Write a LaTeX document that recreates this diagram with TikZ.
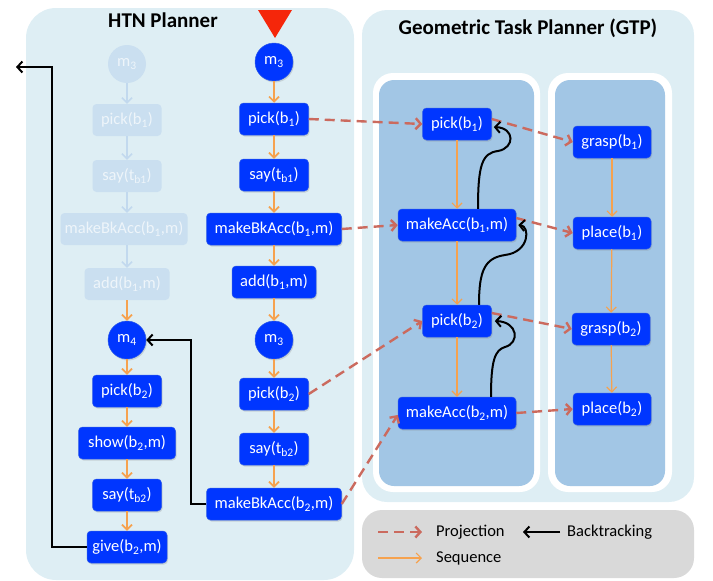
\documentclass[tikz,border=0pt]{standalone}
\usepackage{fontspec}
\setmainfont{Carlito}
\usetikzlibrary{arrows.meta,shadows}
\definecolor{panelbg}{HTML}{DEEEF4}
\definecolor{colblue}{HTML}{A2C6E5}
\definecolor{nodeblue}{HTML}{0036FF}
\definecolor{nodeedge}{HTML}{2F5BE8}
\definecolor{fadefill}{HTML}{CADFF0}
\definecolor{fadetext}{HTML}{EEF5FA}
\definecolor{fadearrow}{HTML}{C2D9EE}
\definecolor{seqorange}{HTML}{F6A24F}
\definecolor{projred}{HTML}{CB6A5E}
\definecolor{legendgray}{HTML}{D9D9D9}
\definecolor{trired}{HTML}{F5260A}
\tikzset{
  nodefont/.style={font=\fontsize{16.5}{18}\selectfont},
  blk/.style={rectangle, rounded corners=4pt, fill=nodeblue, draw=nodeedge, line width=0.5pt,
    text=white, nodefont, minimum height=32pt, inner sep=0pt,
    drop shadow={shadow xshift=1pt, shadow yshift=-1.5pt, opacity=0.25}},
  circ/.style={circle, fill=nodeblue, draw=nodeedge, line width=0.5pt, text=white,
    nodefont, minimum size=38pt, inner sep=0pt,
    drop shadow={shadow xshift=1pt, shadow yshift=-1.5pt, opacity=0.25}},
  fade/.style={rectangle, rounded corners=4pt, fill=fadefill, text=fadetext,
    nodefont, minimum height=32pt, inner sep=0pt},
  fadecirc/.style={circle, fill=fadefill, text=fadetext,
    nodefont, minimum size=38pt, inner sep=0pt},
  seq/.style={draw=seqorange, line width=1.6pt, -{Straight Barb[length=5pt,width=10pt]}},
  fadeseq/.style={draw=fadearrow, line width=1.6pt, -{Straight Barb[length=5pt,width=10pt]}},
  seqthin/.style={draw=seqorange, line width=1.2pt, -{Straight Barb[length=5pt,width=10pt]}},
  proj/.style={draw=projred, line width=2.4pt, dash pattern=on 10pt off 6pt, -{Straight Barb[length=5pt,width=11pt]}},
  back/.style={draw=black, line width=2pt, -{Straight Barb[length=5pt,width=11pt]}},
  title/.style={font=\bfseries\fontsize{21}{23}\selectfont, text=black},
  legtext/.style={font=\fontsize{16.5}{18}\selectfont, text=black, anchor=west, inner sep=0pt},
}
\begin{document}
\begin{tikzpicture}[x=1pt,y=-1pt]
\useasboundingbox (0,0) rectangle (713,581);
% panels
\fill[panelbg, rounded corners=30pt] (26,8) rectangle (354,580);
\fill[panelbg, rounded corners=25pt] (362,10) rectangle (694,502);
\fill[white, rounded corners=20pt] (373,73) rectangle (540,492);
\fill[colblue, rounded corners=15pt] (379,80) rectangle (534,486);
\fill[white, rounded corners=20pt] (548,73) rectangle (672,492);
\fill[colblue, rounded corners=15pt] (555,80) rectangle (665,486);
\fill[legendgray, rounded corners=20pt] (362,510) rectangle (694,578);
% titles
\node[title] (t1) at (163,20) {HTN Planner};
\node[title] (t2) at (528,28) {Geometric Task Planner (GTP)};
\fill[trired] (258,10) -- (292,10) -- (275,38) -- cycle;
% HTN right column
\node[circ] (hm3a) at (274,62) {m\textsubscript{3}};
\node[blk, minimum width=69pt] (hp1) at (274,119) {pick(b\textsubscript{1})};
\node[blk, minimum width=69pt] (hs1) at (274,175) {say(t\textsubscript{b1})};
\node[blk, minimum width=135pt] (hk1) at (274,229) {makeBkAcc(b\textsubscript{1},m)};
\node[blk, minimum width=84pt] (ha1) at (274,282) {add(b\textsubscript{1},m)};
\node[circ] (hm3b) at (274,340) {m\textsubscript{3}};
\node[blk, minimum width=69pt] (hp2) at (274,394) {pick(b\textsubscript{2})};
\node[blk, minimum width=69pt] (hs2) at (274,449) {say(t\textsubscript{b2})};
\node[blk, minimum width=135pt] (hk2) at (274,504) {makeBkAcc(b\textsubscript{2},m)};
% HTN left column
\node[fadecirc] (fm3) at (127,64) {m\textsubscript{3}};
\node[fade, minimum width=69pt] (fp1) at (127,120) {pick(b\textsubscript{1})};
\node[fade, minimum width=69pt] (fs1) at (127,176) {say(t\textsubscript{b1})};
\node[fade, minimum width=127pt] (fk1) at (124,229) {makeBkAcc(b\textsubscript{1},m)};
\node[fade, minimum width=85pt] (fa1) at (127,284) {add(b\textsubscript{1},m)};
\node[circ] (m4) at (127,340) {m\textsubscript{4}};
\node[blk, minimum width=69pt] (lp2) at (127,391) {pick(b\textsubscript{2})};
\node[blk, minimum width=97pt] (lsh) at (127,443) {show(b\textsubscript{2},m)};
\node[blk, minimum width=69pt] (ls2) at (127,495) {say(t\textsubscript{b2})};
\node[blk, minimum width=80pt] (lg) at (127,547) {give(b\textsubscript{2},m)};
% GTP
\node[blk, minimum width=69pt] (gp1) at (457,124) {pick(b\textsubscript{1})};
\node[blk, minimum width=118pt] (gk1) at (457,225) {makeAcc(b\textsubscript{1},m)};
\node[blk, minimum width=69pt] (gp2) at (457,321) {pick(b\textsubscript{2})};
\node[blk, minimum width=118pt] (gk2) at (457,413) {makeAcc(b\textsubscript{2},m)};
\node[blk, minimum width=78pt] (gg1) at (612,142) {grasp(b\textsubscript{1})};
\node[blk, minimum width=78pt] (gl1) at (612,233) {place(b\textsubscript{1})};
\node[blk, minimum width=78pt] (gg2) at (611,329) {grasp(b\textsubscript{2})};
\node[blk, minimum width=78pt] (gl2) at (612,409) {place(b\textsubscript{2})};
% sequences HTN right
\draw[seq] (hm3a) -- (hp1);
\draw[seq] (hp1) -- (hs1);
\draw[seq] (hs1) -- (hk1);
\draw[seq] (hk1) -- (ha1);
\draw[seq] (ha1) -- (hm3b);
\draw[seq] (hm3b) -- (hp2);
\draw[seq] (hp2) -- (hs2);
\draw[seq] (hs2) -- (hk2);
% left
\draw[fadeseq] (fm3) -- (fp1);
\draw[fadeseq] (fp1) -- (fs1);
\draw[fadeseq] (fs1.south) -- (fs1.south |- fk1.north);
\draw[fadeseq] (fk1.south -| fa1.north) -- (fa1.north);
\draw[seq] (fa1) -- (m4);
\draw[seq] (m4) -- (lp2);
\draw[seq] (lp2) -- (lsh);
\draw[seq] (lsh) -- (ls2);
\draw[seq] (ls2) -- (lg);
% GTP sequences
\draw[seqthin] (gp1) -- (gk1);
\draw[seqthin] (gk1) -- (gp2);
\draw[seqthin] (gp2) -- (gk2);
\draw[seqthin] (gg1) -- (gl1);
\draw[seqthin] (gl1) -- (gg2);
\draw[seqthin] (gg2) -- (gl2);
% projections
\draw[proj] (hp1.east) -- (gp1.west);
\draw[proj] (hk1.east) -- (gk1.west);
\draw[proj] (hp2.east) -- (gp2.west);
\draw[proj] (hk2.east) -- ([yshift=-2pt]gk2.west);
\draw[proj] ([yshift=5pt]gp1.east) -- (gg1.west);
\draw[proj] ([yshift=7pt]gk1.east) -- (gl1.west);
\draw[proj] ([yshift=8pt]gp2.east) -- (gg2.west);
\draw[proj] (gk2.east) -- (gl2.west);
% backtracking
\coordinate (bt) at (16,67);
\draw[back] (lg.west) -- (52,547) -- (52,67) -- (bt);
\draw[back] (hk2.west) -- ++(-15,0) |- (m4.east);
\draw[back] ([xshift=21pt]gk1.north) .. controls (478,165) and (482,153) .. (498,151)
  .. controls (515,148) and (515,128) .. ([xshift=2pt,yshift=-3pt]gp1.east);
\draw[back] ([xshift=22pt]gp2.north) .. controls (479,270) and (485,258) .. (505,255)
  .. controls (530,252) and (530,226) .. ([xshift=2pt]gk1.east);
\draw[back] ([xshift=34pt]gk2.north) .. controls (491,360) and (495,350) .. (505,347)
  .. controls (520,343) and (518,322) .. ([xshift=3pt]gp2.east);
% legend
\coordinate (la1) at (378,532); \coordinate (la2) at (422,532);
\draw[proj] (la1) -- (la2);
\node[legtext] (lt1) at (436,532) {Projection};
\coordinate (lb1) at (560,532); \coordinate (lb2) at (523,532);
\draw[back] (lb1) -- (lb2);
\node[legtext] (lt2) at (567,532) {Backtracking};
\coordinate (lc1) at (378,558); \coordinate (lc2) at (422,558);
\draw[seqthin] (lc1) -- (lc2);
\node[legtext] (lt3) at (436,558) {Sequence};
\end{tikzpicture}
\end{document}
